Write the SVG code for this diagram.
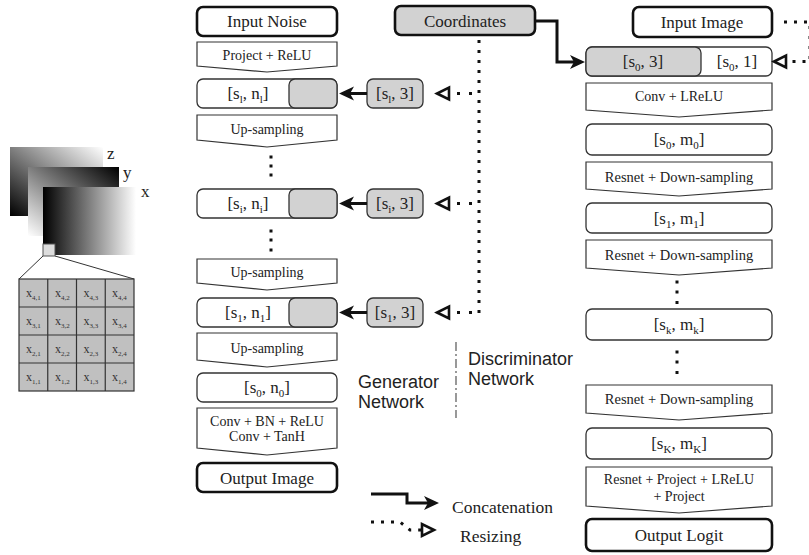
<svg xmlns="http://www.w3.org/2000/svg" width="809" height="555" viewBox="0 0 809 555">
<style>
.box{fill:#fff;stroke:#333;stroke-width:1.3}
.tbox{fill:#fff;stroke:#111;stroke-width:2.6}
.gbox{fill:#d2d2d2;stroke:#333;stroke-width:1.3}
.gtbox{fill:#d2d2d2;stroke:#111;stroke-width:2.6}
.op{fill:#fff;stroke:#333;stroke-width:1.2}
.t{font-family:"Liberation Serif",serif;fill:#222;text-anchor:middle;font-size:17px}
.s{font-size:14px}
.sub{font-size:11px}
.lab{font-family:"Liberation Sans",Arial,sans-serif;fill:#222;font-size:18px}
.solid{stroke:#111;stroke-width:3;fill:none}
.dot{stroke:#111;stroke-width:3;fill:none;stroke-dasharray:3 7}
.dot2{stroke:#111;stroke-width:3;fill:none;stroke-dasharray:3 9}
.g{font-family:"Liberation Serif",serif;fill:#333;font-size:12px}
.gs{font-size:7px}
.vd{fill:#111}
</style>
<defs>
<marker id="ah" markerUnits="userSpaceOnUse" markerWidth="18" markerHeight="16" refX="10" refY="8" orient="auto">
<path d="M16,8 L1,1 L5,8 L1,15 Z" fill="#111"/>
</marker>
<marker id="hh" markerUnits="userSpaceOnUse" markerWidth="18" markerHeight="18" refX="2.5" refY="9" orient="auto">
<path d="M14.5,9 L2.5,3 L2.5,15 Z" fill="#fff" stroke="#111" stroke-width="2.6" stroke-linejoin="miter"/>
</marker>
<linearGradient id="gz" x1="1" y1="0" x2="0" y2="1"><stop offset="0" stop-color="#fff"/><stop offset="1" stop-color="#000"/></linearGradient>
<linearGradient id="gy" x1="1" y1="0" x2="0" y2="1"><stop offset="0" stop-color="#000"/><stop offset="1" stop-color="#fff"/></linearGradient>
<linearGradient id="gx" x1="0" y1="0" x2="1" y2="0"><stop offset="0" stop-color="#000"/><stop offset="1" stop-color="#fff"/></linearGradient>
</defs>
<rect width="809" height="555" fill="#fff"/>

<!-- Left coordinate illustration -->
<g id="coord-planes">
<rect x="10" y="147" width="93" height="69" fill="url(#gz)"/>
<text x="107" y="159" style="font-family:'Liberation Serif',serif;font-size:17px;fill:#222">z</text>
<rect x="28" y="167" width="91" height="69" fill="url(#gy)"/>
<text x="123" y="178" style="font-family:'Liberation Serif',serif;font-size:17px;fill:#222">y</text>
<rect x="43" y="187" width="93" height="68" fill="url(#gx)"/>
<text x="141" y="197" style="font-family:'Liberation Serif',serif;font-size:17px;fill:#222">x</text>
<rect x="43" y="244" width="12" height="12" fill="#ddd" stroke="#555" stroke-width="1"/>
<line x1="43" y1="256" x2="19" y2="279" stroke="#333" stroke-width="1"/>
<line x1="55" y1="256" x2="134" y2="279" stroke="#333" stroke-width="1"/>
</g>
<g id="coord-grid">
<rect x="19" y="279" width="115" height="112" fill="#c0c0c0" stroke="#333" stroke-width="1.2"/>
<path d="M47.75,279V391M76.5,279V391M105.25,279V391M19,307H134M19,335H134M19,363H134" stroke="#333" stroke-width="1.2"/>
<text class="g" x="26" y="297">x<tspan class="gs" dy="3">4,1</tspan></text>
<text class="g" x="55" y="297">x<tspan class="gs" dy="3">4,2</tspan></text>
<text class="g" x="83.5" y="297">x<tspan class="gs" dy="3">4,3</tspan></text>
<text class="g" x="112" y="297">x<tspan class="gs" dy="3">4,4</tspan></text>
<text class="g" x="26" y="325">x<tspan class="gs" dy="3">3,1</tspan></text>
<text class="g" x="55" y="325">x<tspan class="gs" dy="3">3,2</tspan></text>
<text class="g" x="83.5" y="325">x<tspan class="gs" dy="3">3,3</tspan></text>
<text class="g" x="112" y="325">x<tspan class="gs" dy="3">3,4</tspan></text>
<text class="g" x="26" y="353">x<tspan class="gs" dy="3">2,1</tspan></text>
<text class="g" x="55" y="353">x<tspan class="gs" dy="3">2,2</tspan></text>
<text class="g" x="83.5" y="353">x<tspan class="gs" dy="3">2,3</tspan></text>
<text class="g" x="112" y="353">x<tspan class="gs" dy="3">2,4</tspan></text>
<text class="g" x="26" y="381">x<tspan class="gs" dy="3">1,1</tspan></text>
<text class="g" x="55" y="381">x<tspan class="gs" dy="3">1,2</tspan></text>
<text class="g" x="83.5" y="381">x<tspan class="gs" dy="3">1,3</tspan></text>
<text class="g" x="112" y="381">x<tspan class="gs" dy="3">1,4</tspan></text>
</g>

<!-- Generator -->
<g id="g-input-noise"><rect class="tbox" x="197" y="7" width="140" height="29" rx="6"/><text class="t" x="267" y="27">Input Noise</text></g>
<g id="g-project-relu"><path class="op" d="M197,42H337V66L267,72L197,66Z"/><text class="t s" x="267" y="60">Project + ReLU</text></g>
<g id="g-sl-nl"><rect class="box" x="197" y="79" width="140" height="29" rx="6"/><rect class="gbox" x="289" y="79" width="48" height="29" rx="6"/><text class="t" x="248" y="99">[s<tspan class="sub" dy="4">l</tspan><tspan dy="-4">, n</tspan><tspan class="sub" dy="4">l</tspan><tspan dy="-4">]</tspan></text></g>
<g id="g-up1"><path class="op" d="M197,115H337V140L267,147L197,140Z"/><text class="t s" x="267" y="134">Up-sampling</text></g>
<g id="g-dots1"><rect class="vd" x="269.5" y="155.5" width="3" height="3"/><rect class="vd" x="269.5" y="164.5" width="3" height="3"/><rect class="vd" x="269.5" y="173.5" width="3" height="3"/></g>
<g id="g-si-ni"><rect class="box" x="197" y="189" width="140" height="29" rx="6"/><rect class="gbox" x="289" y="189" width="48" height="29" rx="6"/><text class="t" x="248" y="209">[s<tspan class="sub" dy="4">i</tspan><tspan dy="-4">, n</tspan><tspan class="sub" dy="4">i</tspan><tspan dy="-4">]</tspan></text></g>
<g id="g-dots2"><rect class="vd" x="269.5" y="229.5" width="3" height="3"/><rect class="vd" x="269.5" y="238.5" width="3" height="3"/><rect class="vd" x="269.5" y="248.5" width="3" height="3"/></g>
<g id="g-up2"><path class="op" d="M197,259H337V283L267,290L197,283Z"/><text class="t s" x="267" y="277">Up-sampling</text></g>
<g id="g-s1-n1"><rect class="box" x="197" y="298" width="140" height="29" rx="6"/><rect class="gbox" x="289" y="298" width="48" height="29" rx="6"/><text class="t" x="248" y="318">[s<tspan class="sub" dy="4">1</tspan><tspan dy="-4">, n</tspan><tspan class="sub" dy="4">1</tspan><tspan dy="-4">]</tspan></text></g>
<g id="g-up3"><path class="op" d="M197,333H337V360L267,367L197,360Z"/><text class="t s" x="267" y="353">Up-sampling</text></g>
<g id="g-s0-n0"><rect class="box" x="197" y="373" width="140" height="29" rx="6"/><text class="t" x="267" y="393">[s<tspan class="sub" dy="4">0</tspan><tspan dy="-4">, n</tspan><tspan class="sub" dy="4">0</tspan><tspan dy="-4">]</tspan></text></g>
<g id="g-conv"><path class="op" d="M197,408H337V448L267,455L197,448Z"/><text class="t s" x="267" y="426">Conv + BN + ReLU</text><text class="t s" x="267" y="441">Conv + TanH</text></g>
<g id="g-output-image"><rect class="tbox" x="197" y="463" width="140" height="29" rx="6"/><text class="t" x="267" y="484">Output Image</text></g>

<!-- Coordinates -->
<g id="coordinates"><rect class="gtbox" x="395" y="6" width="140" height="29" rx="6"/><text class="t" x="465" y="27">Coordinates</text></g>
<g id="c-sl"><rect class="gbox" x="367" y="79" width="56" height="29" rx="6"/><text class="t" x="395" y="99">[s<tspan class="sub" dy="4">l</tspan><tspan dy="-4">, 3]</tspan></text></g>
<g id="c-si"><rect class="gbox" x="367" y="189" width="56" height="29" rx="6"/><text class="t" x="395" y="209">[s<tspan class="sub" dy="4">i</tspan><tspan dy="-4">, 3]</tspan></text></g>
<g id="c-s1"><rect class="gbox" x="367" y="298" width="56" height="29" rx="6"/><text class="t" x="395" y="318">[s<tspan class="sub" dy="4">1</tspan><tspan dy="-4">, 3]</tspan></text></g>

<!-- Discriminator -->
<g id="d-input-image"><rect class="tbox" x="633" y="7" width="139" height="30" rx="6"/><text class="t" x="702" y="28">Input Image</text></g>
<g id="d-s0-concat"><rect class="box" x="586" y="47" width="186" height="29" rx="6"/><rect class="gbox" x="586" y="47" width="115" height="29" rx="6"/><text class="t" x="643" y="67">[s<tspan class="sub" dy="4">0</tspan><tspan dy="-4">, 3]</tspan></text><text class="t" x="737" y="67">[s<tspan class="sub" dy="4">0</tspan><tspan dy="-4">, 1]</tspan></text></g>
<g id="d-conv"><path class="op" d="M586,83H772V110L679,117L586,110Z"/><text class="t s" x="679" y="101">Conv + LReLU</text></g>
<g id="d-s0-m0"><rect class="box" x="586" y="124" width="186" height="31" rx="6"/><text class="t" x="679" y="145">[s<tspan class="sub" dy="4">0</tspan><tspan dy="-4">, m</tspan><tspan class="sub" dy="4">0</tspan><tspan dy="-4">]</tspan></text></g>
<g id="d-res1"><path class="op" d="M586,162H772V189L679,196L586,189Z"/><text class="t s" x="679" y="182" style="font-size:14.5px">Resnet + Down-sampling</text></g>
<g id="d-s1-m1"><rect class="box" x="586" y="203" width="186" height="30" rx="6"/><text class="t" x="679" y="224">[s<tspan class="sub" dy="4">1</tspan><tspan dy="-4">, m</tspan><tspan class="sub" dy="4">1</tspan><tspan dy="-4">]</tspan></text></g>
<g id="d-res2"><path class="op" d="M586,240H772V268L679,275L586,268Z"/><text class="t s" x="679" y="260" style="font-size:14.5px">Resnet + Down-sampling</text></g>
<g id="d-dots1"><rect class="vd" x="675.5" y="280.5" width="3" height="3"/><rect class="vd" x="675.5" y="290.5" width="3" height="3"/><rect class="vd" x="675.5" y="301" width="3" height="3"/></g>
<g id="d-sk-mk"><rect class="box" x="586" y="309" width="186" height="31" rx="6"/><text class="t" x="679" y="330">[s<tspan class="sub" dy="4">k</tspan><tspan dy="-4">, m</tspan><tspan class="sub" dy="4">k</tspan><tspan dy="-4">]</tspan></text></g>
<g id="d-dots2"><rect class="vd" x="675.5" y="350.5" width="3" height="3"/><rect class="vd" x="675.5" y="360.5" width="3" height="3"/><rect class="vd" x="675.5" y="371" width="3" height="3"/></g>
<g id="d-res3"><path class="op" d="M586,385H772V413L679,420L586,413Z"/><text class="t s" x="679" y="404" style="font-size:14.5px">Resnet + Down-sampling</text></g>
<g id="d-sK-mK"><rect class="box" x="586" y="428" width="186" height="31" rx="6"/><text class="t" x="679" y="449">[s<tspan class="sub" dy="4">K</tspan><tspan dy="-4">, m</tspan><tspan class="sub" dy="4">K</tspan><tspan dy="-4">]</tspan></text></g>
<g id="d-res-proj"><path class="op" d="M586,467H772V506L679,513L586,506Z"/><text class="t s" x="679" y="484">Resnet + Project + LReLU</text><text class="t s" x="679" y="501">+ Project</text></g>
<g id="d-output-logit"><rect class="tbox" x="586" y="519" width="186" height="32" rx="6"/><text class="t" x="679" y="541">Output Logit</text></g>

<!-- Labels -->
<g id="labels">
<text class="lab" x="358" y="388">Generator</text>
<text class="lab" x="358" y="408">Network</text>
<text class="lab" x="468" y="365">Discriminator</text>
<text class="lab" x="468" y="385">Network</text>
<line x1="456" y1="342" x2="456" y2="418" stroke="#555" stroke-width="1.2" stroke-dasharray="9 3 2 3"/>
</g>

<!-- Connectors -->
<g id="connectors">
<path class="solid" d="M367,93.5H345" marker-end="url(#ah)"/>
<path class="solid" d="M367,203.5H345" marker-end="url(#ah)"/>
<path class="solid" d="M367,312.5H345" marker-end="url(#ah)"/>
<path class="solid" d="M535,21H557V62H579" marker-end="url(#ah)"/>
<path class="dot" d="M479,40V314"/>
<path class="dot2" d="M472,93.5H449" marker-end="url(#hh)"/>
<path class="dot2" d="M472,203.5H449" marker-end="url(#hh)"/>
<path class="dot2" d="M472,312.5H449" marker-end="url(#hh)"/>
<path class="dot" d="M784,22H810V61.5H786" marker-end="url(#hh)"/>
</g>

<!-- Legend -->
<g id="legend">
<path class="solid" d="M371,494H407V503H433" marker-end="url(#ah)"/>
<text x="452" y="513" style="font-family:'Liberation Serif',serif;font-size:17.5px;fill:#222">Concatenation</text>
<path class="dot" d="M371,522H400L410,530H422" marker-end="url(#hh)"/>
<text x="460" y="542" style="font-family:'Liberation Serif',serif;font-size:17.5px;fill:#222">Resizing</text>
</g>
</svg>
